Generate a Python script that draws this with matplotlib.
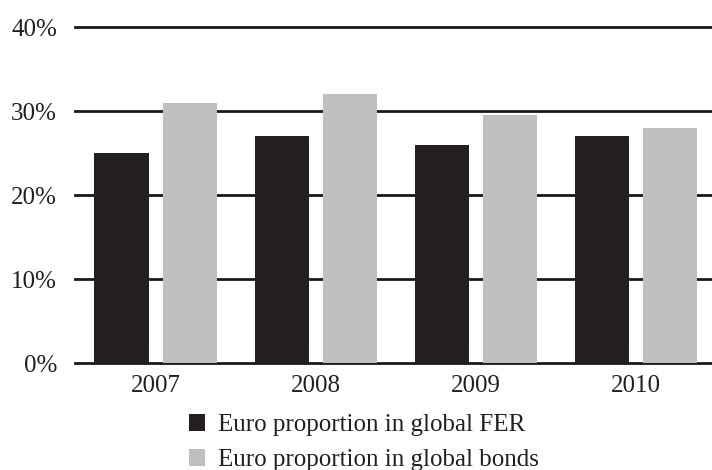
import numpy as np
import matplotlib.pyplot as plt

years = ['2007', '2008', '2009', '2010']
fer_share = [25, 27, 26, 27]      # Euro proportion in global FER (%)
bond_share = [31, 32, 29.5, 28]   # Euro proportion in global bonds (%)
y_ticks = [0, 10, 20, 30, 40]

plt.rcParams['font.family'] = ['Liberation Serif', 'DejaVu Serif']

fig = plt.figure(figsize=(7.12, 4.70), dpi=100)
ax = fig.add_axes([75 / 712, (470 - 363) / 470, 1 - 75 / 712, 336 / 470])

x = np.arange(len(years))
w = 0.3375
off = 0.2125

for t in y_ticks:
    ax.axhline(t, color='#1a1a1a', lw=2, zorder=1, clip_on=False)

b1 = ax.bar(x - off, fer_share, w, color='#231f20', zorder=2,
            label='Euro proportion in global FER')
b2 = ax.bar(x + off, bond_share, w, color='#bfbfbf', zorder=2,
            label='Euro proportion in global bonds')

ax.set_xlim(-0.503, 3.475)
ax.set_ylim(0, 40)
ax.set_yticks(y_ticks)
ax.set_yticklabels([f'{t}%' for t in y_ticks], fontsize=18, color='#231f20')
ax.set_xticks(x)
ax.set_xticklabels(years, fontsize=18, color='#231f20')
ax.tick_params(length=0, pad=13, axis='y')
ax.tick_params(length=0, pad=9, axis='x')
for s in ax.spines.values():
    s.set_visible(False)

fig.legend(handles=[b1, b2], loc='upper left', bbox_to_anchor=(189 / 712, 1 - 414 / 470),
           frameon=False, fontsize=18, handlelength=0.64, handleheight=0.64,
           handletextpad=0.52, labelspacing=0.52, borderpad=0, borderaxespad=0,
           labelcolor='#231f20')

fig.savefig('out.png', dpi=100)
